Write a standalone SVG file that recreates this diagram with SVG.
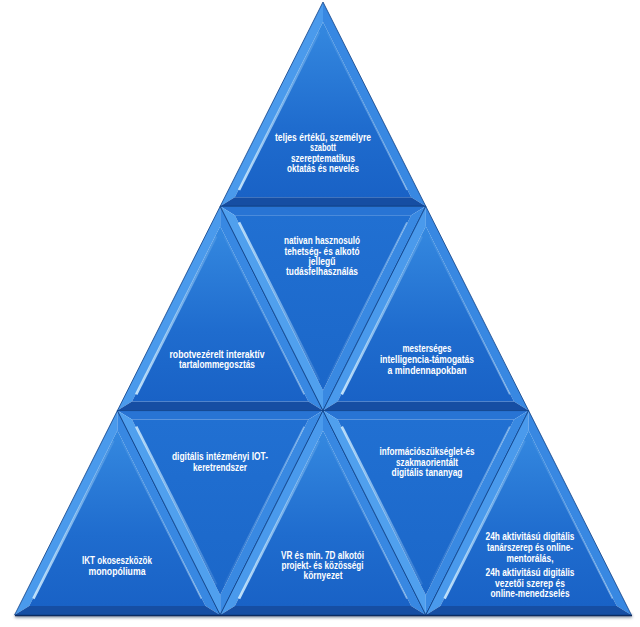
<svg xmlns="http://www.w3.org/2000/svg" xmlns:xlink="http://www.w3.org/1999/xlink" width="640" height="627" viewBox="0 0 640 627">
<defs>
<linearGradient id="faceUp" x1="0" y1="0" x2="0" y2="1">
<stop offset="0" stop-color="#3589e0"/>
<stop offset="0.6" stop-color="#1f6cce"/>
<stop offset="1" stop-color="#1962c6"/>
</linearGradient>
<linearGradient id="faceDn" x1="0" y1="0" x2="0" y2="1">
<stop offset="0" stop-color="#2170d2"/>
<stop offset="1" stop-color="#1b67c9"/>
</linearGradient>
<linearGradient id="streakUp" gradientUnits="userSpaceOnUse" x1="0" y1="10" x2="0" y2="195">
<stop offset="0" stop-color="#bfe6ff" stop-opacity="0"/>
<stop offset="0.5" stop-color="#bfe6ff" stop-opacity="0.55"/>
<stop offset="1" stop-color="#d6f0ff" stop-opacity="0.9"/>
</linearGradient>
<linearGradient id="streakDn" gradientUnits="userSpaceOnUse" x1="0" y1="10" x2="0" y2="195">
<stop offset="0" stop-color="#d6f0ff" stop-opacity="0.85"/>
<stop offset="0.5" stop-color="#bfe6ff" stop-opacity="0.5"/>
<stop offset="1" stop-color="#bfe6ff" stop-opacity="0"/>
</linearGradient>
<filter id="shadow" x="-5%" y="-200%" width="110%" height="500%">
<feGaussianBlur stdDeviation="1.5"/>
</filter>
<g id="up">
<polygon points="0,0 -102.8,204.3 -88.2,195.3 0,20" fill="#4a9aec"/>
<polygon points="0,0 0,20 88.2,195.3 102.8,204.3" fill="#3888e2"/>
<polygon points="-102.8,204.3 102.8,204.3 88.2,195.3 -88.2,195.3" fill="#164ea3"/>
<polygon points="0,20 -88.2,195.3 88.2,195.3" fill="url(#faceUp)"/>
<line x1="-4" y1="30" x2="-84" y2="188" stroke="url(#streakUp)" stroke-width="2.6"/>
<line x1="4" y1="30" x2="84" y2="188" stroke="url(#streakUp)" stroke-width="1.6" opacity="0.6"/>
<polygon points="0,0 -102.8,204.3 102.8,204.3" fill="none" stroke="#0e3f85" stroke-width="0.8"/>
</g>
<g id="dn">
<polygon points="-102.8,0 102.8,0 88.2,9 -88.2,9" fill="#2874d4"/>
<polygon points="-102.8,0 -88.2,9 0,184.3 0,204.3" fill="#50a0ee"/>
<polygon points="102.8,0 0,204.3 0,184.3 88.2,9" fill="#3989e2"/>
<polygon points="-88.2,9 88.2,9 0,184.3" fill="url(#faceDn)"/>
<line x1="-84" y1="16" x2="-4" y2="174" stroke="url(#streakDn)" stroke-width="2.6"/>
<line x1="84" y1="16" x2="4" y2="174" stroke="url(#streakDn)" stroke-width="1.6" opacity="0.6"/>
<polygon points="-102.8,0 102.8,0 0,204.3" fill="none" stroke="#0e3f85" stroke-width="0.8"/>
</g>
</defs>
<style>
text { font-family: "Liberation Sans", Arial, sans-serif; font-weight: bold; font-size: 10px; fill: #ffffff; text-anchor: middle; }
</style>
<rect width="640" height="627" fill="#ffffff"/>
<g id="shadow-base">
<rect x="15" y="614.5" width="617" height="3" fill="#0a1f45" opacity="0.55" filter="url(#shadow)"/>
<line x1="15" y1="615.6" x2="632" y2="615.6" stroke="#0b2350" stroke-width="1.2"/>
</g>
<g id="connectors"></g>
<g id="t1">
<use xlink:href="#up" transform="translate(323,2)"/>
<text x="323" y="140.5" textLength="96" lengthAdjust="spacingAndGlyphs">teljes értékű, személyre</text>
<text x="323" y="151" textLength="26" lengthAdjust="spacingAndGlyphs">szabott</text>
<text x="323" y="161.5" textLength="64" lengthAdjust="spacingAndGlyphs">szereptematikus</text>
<text x="323" y="172" textLength="72" lengthAdjust="spacingAndGlyphs">oktatás és nevelés</text>
</g>
<g id="t2l">
<use xlink:href="#up" transform="translate(220.2,206.3)"/>
<text x="217" y="357.5" textLength="95" lengthAdjust="spacingAndGlyphs">robotvezérelt interaktív</text>
<text x="217" y="367.5" textLength="76" lengthAdjust="spacingAndGlyphs">tartalommegosztás</text>
</g>
<g id="t2m">
<use xlink:href="#dn" transform="translate(323,206.3)"/>
<text x="322" y="244" textLength="76" lengthAdjust="spacingAndGlyphs">nativan hasznosuló</text>
<text x="322" y="255" textLength="75" lengthAdjust="spacingAndGlyphs">tehetség- és alkotó</text>
<text x="322" y="264.5" textLength="27" lengthAdjust="spacingAndGlyphs">jellegű</text>
<text x="322" y="275" textLength="72" lengthAdjust="spacingAndGlyphs">tudásfelhasználás</text>
</g>
<g id="t2r">
<use xlink:href="#up" transform="translate(425.8,206.3)"/>
<text x="427" y="351.5" textLength="49" lengthAdjust="spacingAndGlyphs">mesterséges</text>
<text x="427" y="362.5" textLength="94" lengthAdjust="spacingAndGlyphs">intelligencia-támogatás</text>
<text x="427" y="373.5" textLength="79" lengthAdjust="spacingAndGlyphs">a mindennapokban</text>
</g>
<g id="t3a">
<use xlink:href="#up" transform="translate(117.4,410.6)"/>
<text x="117" y="563.5" textLength="70" lengthAdjust="spacingAndGlyphs">IKT okoseszközök</text>
<text x="117" y="575" textLength="57" lengthAdjust="spacingAndGlyphs">monopóliuma</text>
</g>
<g id="t3b">
<use xlink:href="#dn" transform="translate(220.2,410.6)"/>
<text x="220" y="460" textLength="96" lengthAdjust="spacingAndGlyphs">digitális intézményi IOT-</text>
<text x="220" y="471" textLength="54" lengthAdjust="spacingAndGlyphs">keretrendszer</text>
</g>
<g id="t3c">
<use xlink:href="#up" transform="translate(323,410.6)"/>
<text x="322.5" y="558.5" textLength="83" lengthAdjust="spacingAndGlyphs">VR és min. 7D alkotói</text>
<text x="322.5" y="569" textLength="82" lengthAdjust="spacingAndGlyphs">projekt- és közösségi</text>
<text x="323" y="579" textLength="39" lengthAdjust="spacingAndGlyphs">környezet</text>
</g>
<g id="t3d">
<use xlink:href="#dn" transform="translate(425.8,410.6)"/>
<text x="427" y="455" textLength="95" lengthAdjust="spacingAndGlyphs">információszükséglet-és</text>
<text x="427" y="465.5" textLength="62" lengthAdjust="spacingAndGlyphs">szakmaorientált</text>
<text x="427" y="476" textLength="71" lengthAdjust="spacingAndGlyphs">digitális tananyag</text>
</g>
<g id="t3e">
<use xlink:href="#up" transform="translate(528.6,410.6)"/>
<text x="530" y="540" textLength="89" lengthAdjust="spacingAndGlyphs">24h aktivitású digitális</text>
<text x="530" y="551" textLength="86" lengthAdjust="spacingAndGlyphs">tanárszerep és online-</text>
<text x="530" y="561.5" textLength="47" lengthAdjust="spacingAndGlyphs">mentorálás,</text>
<text x="530" y="576" textLength="89" lengthAdjust="spacingAndGlyphs">24h aktivitású digitális</text>
<text x="530" y="586.5" textLength="70" lengthAdjust="spacingAndGlyphs">vezetői szerep és</text>
<text x="530" y="597" textLength="79" lengthAdjust="spacingAndGlyphs">online-menedzselés</text>
</g>
</svg>
